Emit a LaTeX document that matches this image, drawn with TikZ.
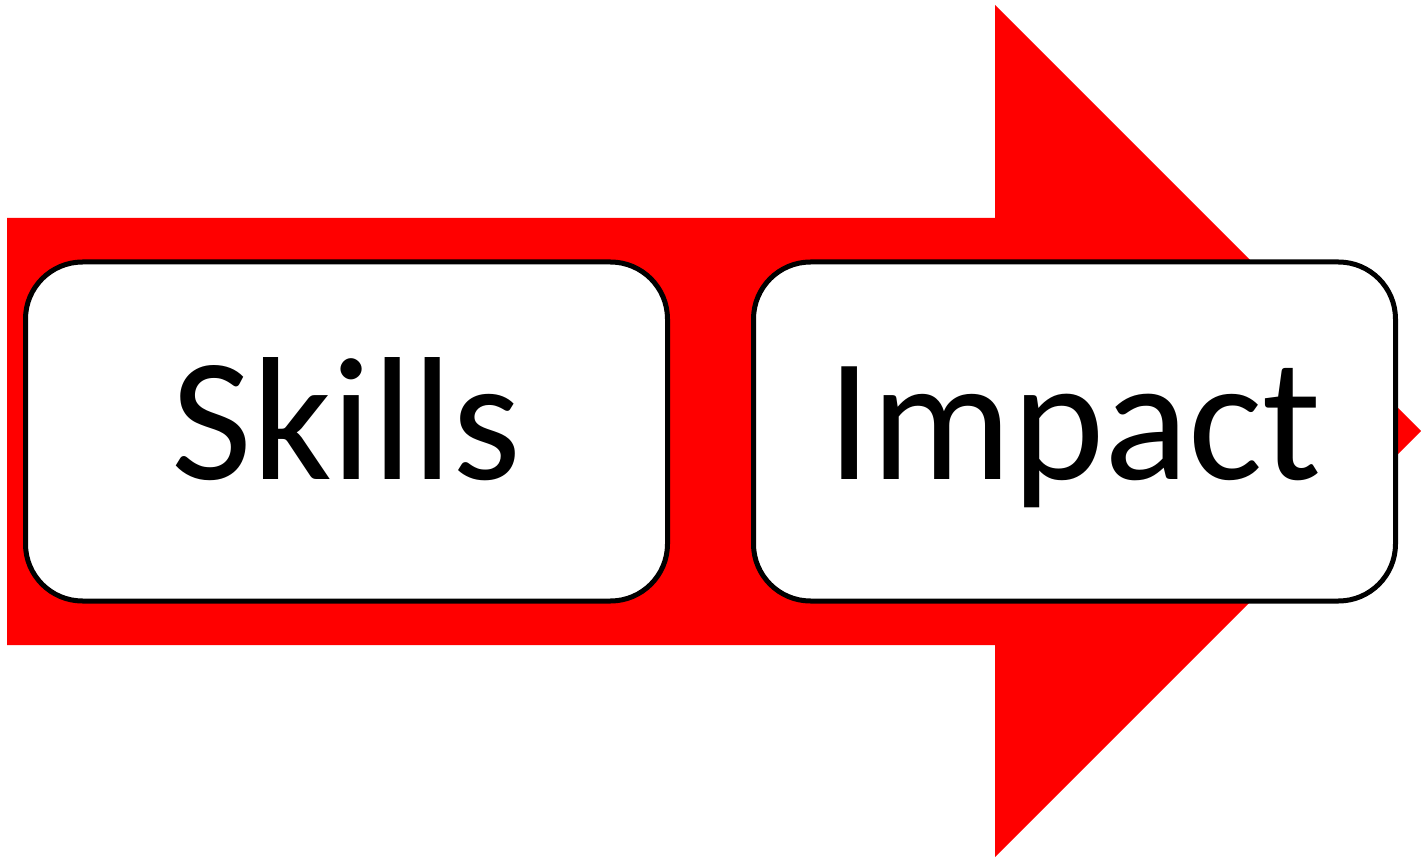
\documentclass[tikz,border=0pt]{standalone}
\usepackage{fontspec}
\setmainfont{Carlito}
\usetikzlibrary{positioning}
\definecolor{arrowred}{HTML}{FF0000}
\tikzset{
  stage/.style={draw=black,fill=white,rounded corners=57*0.02cm,line width=5*0.02cm,
    minimum width=642*0.02cm,minimum height=339*0.02cm,inner sep=0pt,
    text height=2.4cm,text depth=0.46cm,
    font=\fontsize{100}{120}\selectfont},
}
\begin{document}
\begin{tikzpicture}[x=0.02cm,y=-0.02cm]
\useasboundingbox (0,0) rectangle (1421,858);
% big arrow
\fill[arrowred] (7,218) -- (995,218) -- (995,5) -- (1421,431) -- (995,857) -- (995,645) -- (7,645) -- cycle;
\node[stage] (skills) at (346.5,431.5) {Skills};
\node[stage,right=81*0.02cm of skills] (impact) {Impact};
\end{tikzpicture}
\end{document}
